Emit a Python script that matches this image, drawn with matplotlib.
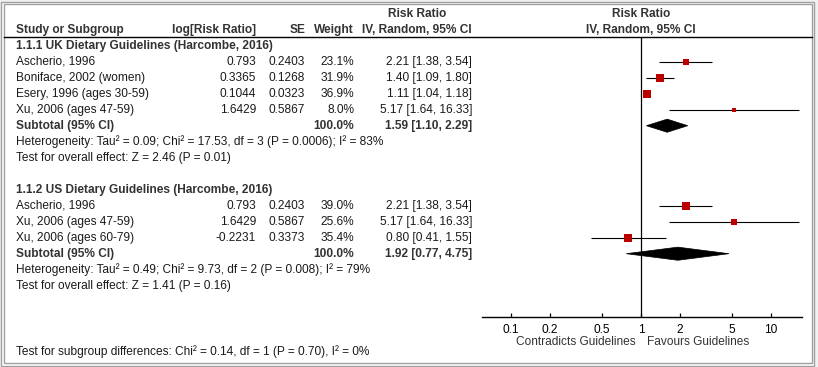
import matplotlib
matplotlib.use("Agg")
import matplotlib.pyplot as plt
from matplotlib.patches import Rectangle, Polygon
import numpy as np

plt.rcParams['font.family'] = ['Liberation Sans', 'DejaVu Sans']

# ---------------- data ----------------
uk_title = "1.1.1 UK Dietary Guidelines (Harcombe, 2016)"
uk_studies = ["Ascherio, 1996", "Boniface, 2002 (women)", "Esery, 1996 (ages 30-59)", "Xu, 2006 (ages 47-59)"]
uk_logrr = [0.793, 0.3365, 0.1044, 1.6429]
uk_se = [0.2403, 0.1268, 0.0323, 0.5867]
uk_weight = [23.1, 31.9, 36.9, 8.0]
uk_rr = [2.21, 1.40, 1.11, 5.17]
uk_lo = [1.38, 1.09, 1.04, 1.64]
uk_hi = [3.54, 1.80, 1.18, 16.33]
uk_sub = (1.59, 1.10, 2.29)
uk_sub_weight = 100.0
uk_het = "Heterogeneity: Tau\u00b2 = 0.09; Chi\u00b2 = 17.53, df = 3 (P = 0.0006); I\u00b2 = 83%"
uk_test = "Test for overall effect: Z = 2.46 (P = 0.01)"

us_title = "1.1.2 US Dietary Guidelines (Harcombe, 2016)"
us_studies = ["Ascherio, 1996", "Xu, 2006 (ages 47-59)", "Xu, 2006 (ages 60-79)"]
us_logrr = [0.793, 1.6429, -0.2231]
us_se = [0.2403, 0.5867, 0.3373]
us_weight = [39.0, 25.6, 35.4]
us_rr = [2.21, 5.17, 0.80]
us_lo = [1.38, 1.64, 0.41]
us_hi = [3.54, 16.33, 1.55]
us_sub = (1.92, 0.77, 4.75)
us_sub_weight = 100.0
us_het = "Heterogeneity: Tau\u00b2 = 0.49; Chi\u00b2 = 9.73, df = 2 (P = 0.008); I\u00b2 = 79%"
us_test = "Test for overall effect: Z = 1.41 (P = 0.16)"

subgroup_diff = "Test for subgroup differences: Chi\u00b2 = 0.14, df = 1 (P = 0.70), I\u00b2 = 0%"

tick_values = [0.1, 0.2, 0.5, 1, 2, 5, 10]
tick_labels = ["0.1", "0.2", "0.5", "1", "2", "5", "10"]
left_label = "Contradicts Guidelines"
right_label = "Favours Guidelines"

# ---------------- layout ----------------
W, H = 818, 367
fig = plt.figure(figsize=(W / 100, H / 100), dpi=100, facecolor='#f0f0f0')

bg = fig.add_axes([0, 0, 1, 1])
bg.set_xlim(0, W)
bg.set_ylim(H, 0)
bg.axis('off')

bg.add_patch(Rectangle((1, 1.5), 813, 364, facecolor='white', edgecolor='#a0a0a0', lw=1.0))
bg.add_patch(Rectangle((3.5, 4), 808.5, 358.5, facecolor='none', edgecolor='#a0a0a0', lw=1.0))
bg.plot([3.5, 812], [37, 37], color='black', lw=1.0)

FS = 8.6
TXT = '#1a1a1a'
HDR = '#333333'

def row_y(k):
    return 45.7 + 16.0 * k

x_name = 16
x_log = 256
x_se = 305
x_w = 354
x_ci = 472

# headers
bg.text(417, 14, "Risk Ratio", ha='center', va='center', fontsize=FS, fontweight='bold', color=HDR)
bg.text(641, 14, "Risk Ratio", ha='center', va='center', fontsize=FS, fontweight='bold', color=HDR)
bg.text(x_name, 30, "Study or Subgroup", ha='left', va='center', fontsize=FS, fontweight='bold', color=HDR)
bg.text(x_log, 30, "log[Risk Ratio]", ha='right', va='center', fontsize=FS, fontweight='bold', color=HDR)
bg.text(x_se, 30, "SE", ha='right', va='center', fontsize=FS, fontweight='bold', color=HDR)
bg.text(x_w, 30, "Weight", ha='right', va='center', fontsize=FS, fontweight='bold', color=HDR)
bg.text(x_ci, 30, "IV, Random, 95% CI", ha='right', va='center', fontsize=FS, fontweight='bold', color=HDR)
bg.text(641, 30, "IV, Random, 95% CI", ha='center', va='center', fontsize=FS, fontweight='bold', color=HDR)

# forest axes
x0px, x1px = 482.3, 801.7
top_px, axis_px = 37.0, 317.0
px_per_dec = 130.0
xlo = 10 ** ((x0px - 641.0) / px_per_dec)
xhi = 10 ** ((x1px - 641.0) / px_per_dec)
ax = fig.add_axes([x0px / W, (H - axis_px) / H, (x1px - x0px) / W, (axis_px - top_px) / H])
ax.set_xscale('log')
ax.set_xlim(xlo, xhi)
ax.set_ylim((axis_px - 45.7) / 16.0, (top_px - 45.7) / 16.0)
ax.patch.set_alpha(0)
for s in ['top', 'right', 'left']:
    ax.spines[s].set_visible(False)
ax.spines['bottom'].set_linewidth(1.0)
ax.set_yticks([])
ax.set_xticks(tick_values)
ax.set_xticklabels(tick_labels)
ax.minorticks_off()
ax.tick_params(axis='x', direction='in', length=3, width=0.9, pad=4.8, labelsize=FS, colors='black')
ax.axvline(1, color='black', lw=0.9)

SQ = '#bb0000'

def draw_group(k0, title, studies, logrr, se, weight, rr, lo, hi, sub, sub_w, het, test):
    bg.text(x_name, row_y(k0), title, ha='left', va='center', fontsize=FS, fontweight='bold', color=HDR)
    for i, name in enumerate(studies):
        k = k0 + 1 + i
        y = row_y(k)
        bg.text(x_name, y, name, ha='left', va='center', fontsize=FS, color=TXT)
        bg.text(x_log, y, str(logrr[i]), ha='right', va='center', fontsize=FS, color=TXT)
        bg.text(x_se, y, str(se[i]), ha='right', va='center', fontsize=FS, color=TXT)
        bg.text(x_w, y, f"{weight[i]:.1f}%", ha='right', va='center', fontsize=FS, color=TXT)
        bg.text(x_ci, y, f"{rr[i]:.2f} [{lo[i]:.2f}, {hi[i]:.2f}]", ha='right', va='center', fontsize=FS, color=TXT)
        ax.plot([lo[i], hi[i]], [k, k], color='black', lw=0.8, solid_capstyle='butt')
        side_pt = 1.28 * np.sqrt(weight[i]) * 0.72
        ax.scatter([rr[i]], [k], marker='s', s=side_pt ** 2, color=SQ, linewidths=0, zorder=3)
    ks = k0 + 1 + len(studies)
    y = row_y(ks)
    bg.text(x_name, y, "Subtotal (95% CI)", ha='left', va='center', fontsize=FS, fontweight='bold', color=HDR)
    bg.text(x_w, y, f"{sub_w:.1f}%", ha='right', va='center', fontsize=FS, fontweight='bold', color=HDR)
    bg.text(x_ci, y, f"{sub[0]:.2f} [{sub[1]:.2f}, {sub[2]:.2f}]", ha='right', va='center', fontsize=FS, fontweight='bold', color=HDR)
    hh = 0.41
    ax.add_patch(Polygon([(sub[1], ks), (sub[0], ks - hh), (sub[2], ks), (sub[0], ks + hh)],
                         closed=True, facecolor='black', edgecolor='black', lw=0.5, zorder=3))
    bg.text(x_name, row_y(ks + 1), het, ha='left', va='center', fontsize=FS, color=TXT)
    bg.text(x_name, row_y(ks + 2), test, ha='left', va='center', fontsize=FS, color=TXT)

draw_group(0, uk_title, uk_studies, uk_logrr, uk_se, uk_weight, uk_rr, uk_lo, uk_hi, uk_sub, uk_sub_weight, uk_het, uk_test)
draw_group(9, us_title, us_studies, us_logrr, us_se, us_weight, us_rr, us_lo, us_hi, us_sub, us_sub_weight, us_het, us_test)

bg.text(x_name, 352, subgroup_diff, ha='left', va='center', fontsize=FS, color=TXT)
bg.text(635.7, 341.7, left_label, ha='right', va='center', fontsize=FS, color='#333333')
bg.text(647.3, 341.7, right_label, ha='left', va='center', fontsize=FS, color='#333333')

fig.savefig("out.png", dpi=100, facecolor=fig.get_facecolor())
